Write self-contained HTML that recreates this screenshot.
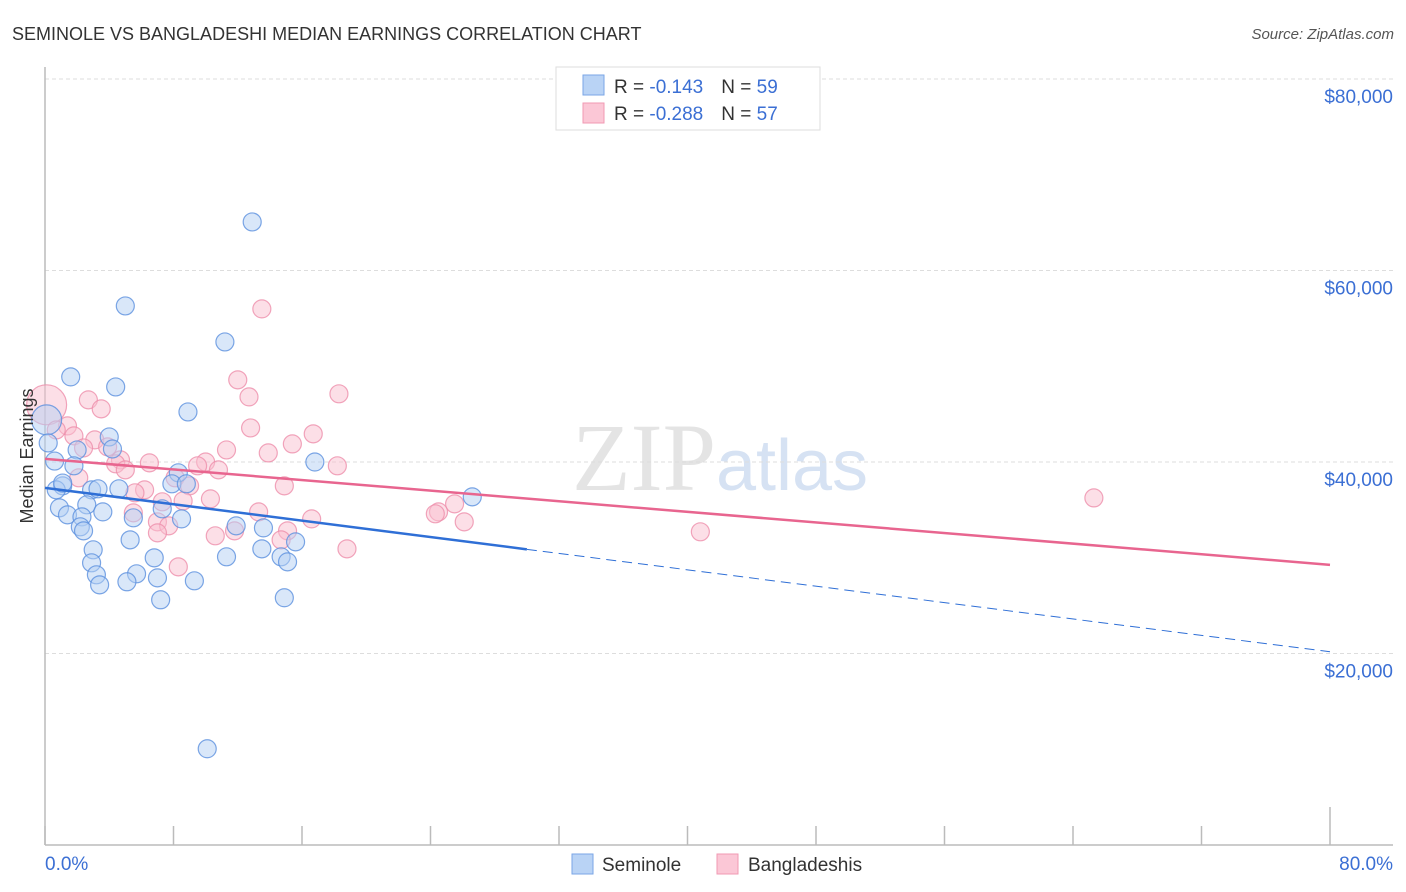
<!DOCTYPE html>
<html><head><meta charset="utf-8"><style>
body{margin:0;background:#fff;font-family:"Liberation Sans",sans-serif;}
svg{display:block}
</style></head><body>
<svg id="chart" width="1406" height="892" viewBox="0 0 1406 892">
<text x="12" y="40" font-size="18" fill="#333">SEMINOLE VS BANGLADESHI MEDIAN EARNINGS CORRELATION CHART</text>
<text x="1394" y="39" font-size="15" fill="#555" text-anchor="end" font-style="italic">Source: ZipAtlas.com</text>
<text x="720" y="490" font-size="96" fill="#e4e4e4" text-anchor="middle" font-family="Liberation Serif, serif">ZIP<tspan fill="#d6e2f3" font-family="Liberation Sans, sans-serif" font-size="72">atlas</tspan></text>
<g id="grid"></g>
<g id="axes"></g>
<g id="points"></g>
<g id="trends"></g>
<text transform="translate(33,456) rotate(-90)" font-size="18" fill="#333" text-anchor="middle">Median Earnings</text>
<g>
<rect x="556" y="67" width="264" height="63" fill="#fff" stroke="#ddd"/>
<rect x="583" y="75" width="21" height="20" fill="#b9d3f5" stroke="#7aa6e6"/>
<rect x="583" y="103" width="21" height="20" fill="#fbc7d6" stroke="#f09ab3"/>
<text x="614" y="93" font-size="19" fill="#333">R = <tspan fill="#3b6fd4">-0.143</tspan><tspan dx="18">N = </tspan><tspan fill="#3b6fd4">59</tspan></text>
<text x="614" y="120" font-size="19" fill="#333">R = <tspan fill="#3b6fd4">-0.288</tspan><tspan dx="18">N = </tspan><tspan fill="#3b6fd4">57</tspan></text>
</g>
<g>
<rect x="572" y="854" width="21" height="20" fill="#b9d3f5" stroke="#7aa6e6"/>
<text x="602" y="871" font-size="19" fill="#333">Seminole</text>
<rect x="717" y="854" width="21" height="20" fill="#fbc7d6" stroke="#f09ab3"/>
<text x="748" y="871" font-size="19" fill="#333">Bangladeshis</text>
</g>
</svg>
<script>
const yTicks=[20000,40000,60000,80000];
const yTickLabels=["$20,000","$40,000","$60,000","$80,000"];
const xTicks=[0,8,16,24,32,40,48,56,64,72,80];
const xEndLabels=["0.0%","80.0%"];
const seminoleX=[12.9,5.0,11.2,1.6,4.4,8.9,0.1,4.0,0.2,2.0,4.2,0.6,16.8,1.8,8.3,1.1,2.9,3.3,4.6,0.7,7.9,8.8,26.6,2.6,0.9,3.6,7.3,1.4,2.3,5.5,8.5,2.2,2.4,11.9,13.6,5.3,15.6,3.0,13.5,6.8,11.3,14.7,15.1,2.9,3.2,5.7,7.0,5.1,9.3,3.4,7.2,14.9,10.1,1.1];
const seminoleY=[65070,56300,52540,48890,47840,45230,44400,42620,41990,41260,41360,40100,40000,39600,38870,37510,37090,37200,37200,37090,37720,37720,36360,35530,35210,34790,35110,34480,34270,34170,34060,33230,32810,33330,33120,31870,31660,30830,30930,29990,30100,30100,29570,29470,28220,28320,27900,27490,27590,27170,25610,25820,10050,37800];
const banglaX=[13.5,0.1,12.0,18.3,12.7,2.7,3.5,1.4,12.8,16.7,0.7,1.8,3.1,15.4,2.4,11.3,3.9,13.9,4.7,6.5,10.0,18.2,9.5,4.4,5.0,10.8,2.1,8.1,9.0,14.9,6.2,5.6,10.3,8.6,7.3,25.5,65.3,5.5,13.3,24.5,24.3,16.6,7.0,7.7,26.1,40.8,7.0,10.6,11.8,15.1,14.7,18.8,8.3];
const banglaY=[55990,45970,48580,47120,46800,46490,45550,43770,43560,42940,43350,42730,42310,41890,41470,41260,41580,40950,40220,39910,40000,39600,39600,39810,39180,39180,38350,38350,37510,37510,37090,36780,36150,35940,35840,35630,36250,34690,34790,34790,34590,34060,33750,33330,33750,32710,32600,32290,32810,32810,31870,30930,29050];
const seminoleTrend=[37300,20180];
const banglaTrend=[40330,29260];
const seminoleSolidEnd=30;

const NS="http://www.w3.org/2000/svg";
const X0=45,X1=1330,YB=845,YT=79;
const xs=v=>X0+(X1-X0)*v/80;
const ys=v=>YB-(YB-YT)*v/80000;
function mk(tag,attrs,parent){const e=document.createElementNS(NS,tag);for(const k in attrs)e.setAttribute(k,attrs[k]);parent.appendChild(e);return e;}
const grid=document.getElementById('grid'),axes=document.getElementById('axes'),pts=document.getElementById('points'),tr=document.getElementById('trends');
yTicks.forEach((t,i)=>{
  const l=mk('line',{x1:X0,x2:1393,y1:ys(t),y2:ys(t),stroke:'#ddd','stroke-dasharray':'4,3'},grid);
  
  
  const tx=mk('text',{x:1393,y:ys(t)+24,'font-size':19,fill:'#3b6fd4','text-anchor':'end'},grid);
  tx.textContent=yTickLabels[i];
  
  
});
const ya=mk('line',{x1:X0,x2:X0,y1:67,y2:YB,stroke:'#bbb','stroke-width':1.5},axes);


const xa=mk('line',{x1:X0,x2:1393,y1:YB,y2:YB,stroke:'#bbb','stroke-width':1.5},axes);


xTicks.forEach((t,i)=>{
  const tk=mk('line',{x1:xs(t),x2:xs(t),y1:(i==xTicks.length-1)?807:826,y2:YB,stroke:'#bbb','stroke-width':1.5},axes);
  
  
});
const xl0=mk('text',{x:45,y:870,'font-size':19,fill:'#3b6fd4'},axes);xl0.textContent=xEndLabels[0];


const xl1=mk('text',{x:1393,y:870,'font-size':19,fill:'#3b6fd4','text-anchor':'end'},axes);xl1.textContent=xEndLabels[1];


function drawPts(X,Y,fill,stroke,name,bigR){
  X.forEach((x,i)=>{
    const r=(x<=0.15)?bigR:9;
    const c=mk('circle',{cx:xs(x),cy:ys(Y[i]),r:r,fill:fill,'fill-opacity':0.5,stroke:stroke,'stroke-opacity':0.8,'stroke-width':1.2},pts);
    
    
  });
}
drawPts(banglaX,banglaY,'#f9bfd0','#ee8fab','bangladeshi-point',20);
drawPts(seminoleX,seminoleY,'#b4cff3','#5b90de','seminole-point',15);
const pl=mk('line',{x1:xs(0),y1:ys(banglaTrend[0]),x2:xs(80),y2:ys(banglaTrend[1]),stroke:'#e8658f','stroke-width':2.5},tr);


const sy=v=>seminoleTrend[0]+(seminoleTrend[1]-seminoleTrend[0])*v/80;
const bl=mk('line',{x1:xs(0),y1:ys(seminoleTrend[0]),x2:xs(seminoleSolidEnd),y2:ys(sy(seminoleSolidEnd)),stroke:'#2f6fd6','stroke-width':2.5},tr);


const bd=mk('line',{x1:xs(seminoleSolidEnd),y1:ys(sy(seminoleSolidEnd)),x2:xs(80),y2:ys(seminoleTrend[1]),stroke:'#2f6fd6','stroke-width':1,'stroke-dasharray':'10,6'},tr);


</script>
</body></html>
